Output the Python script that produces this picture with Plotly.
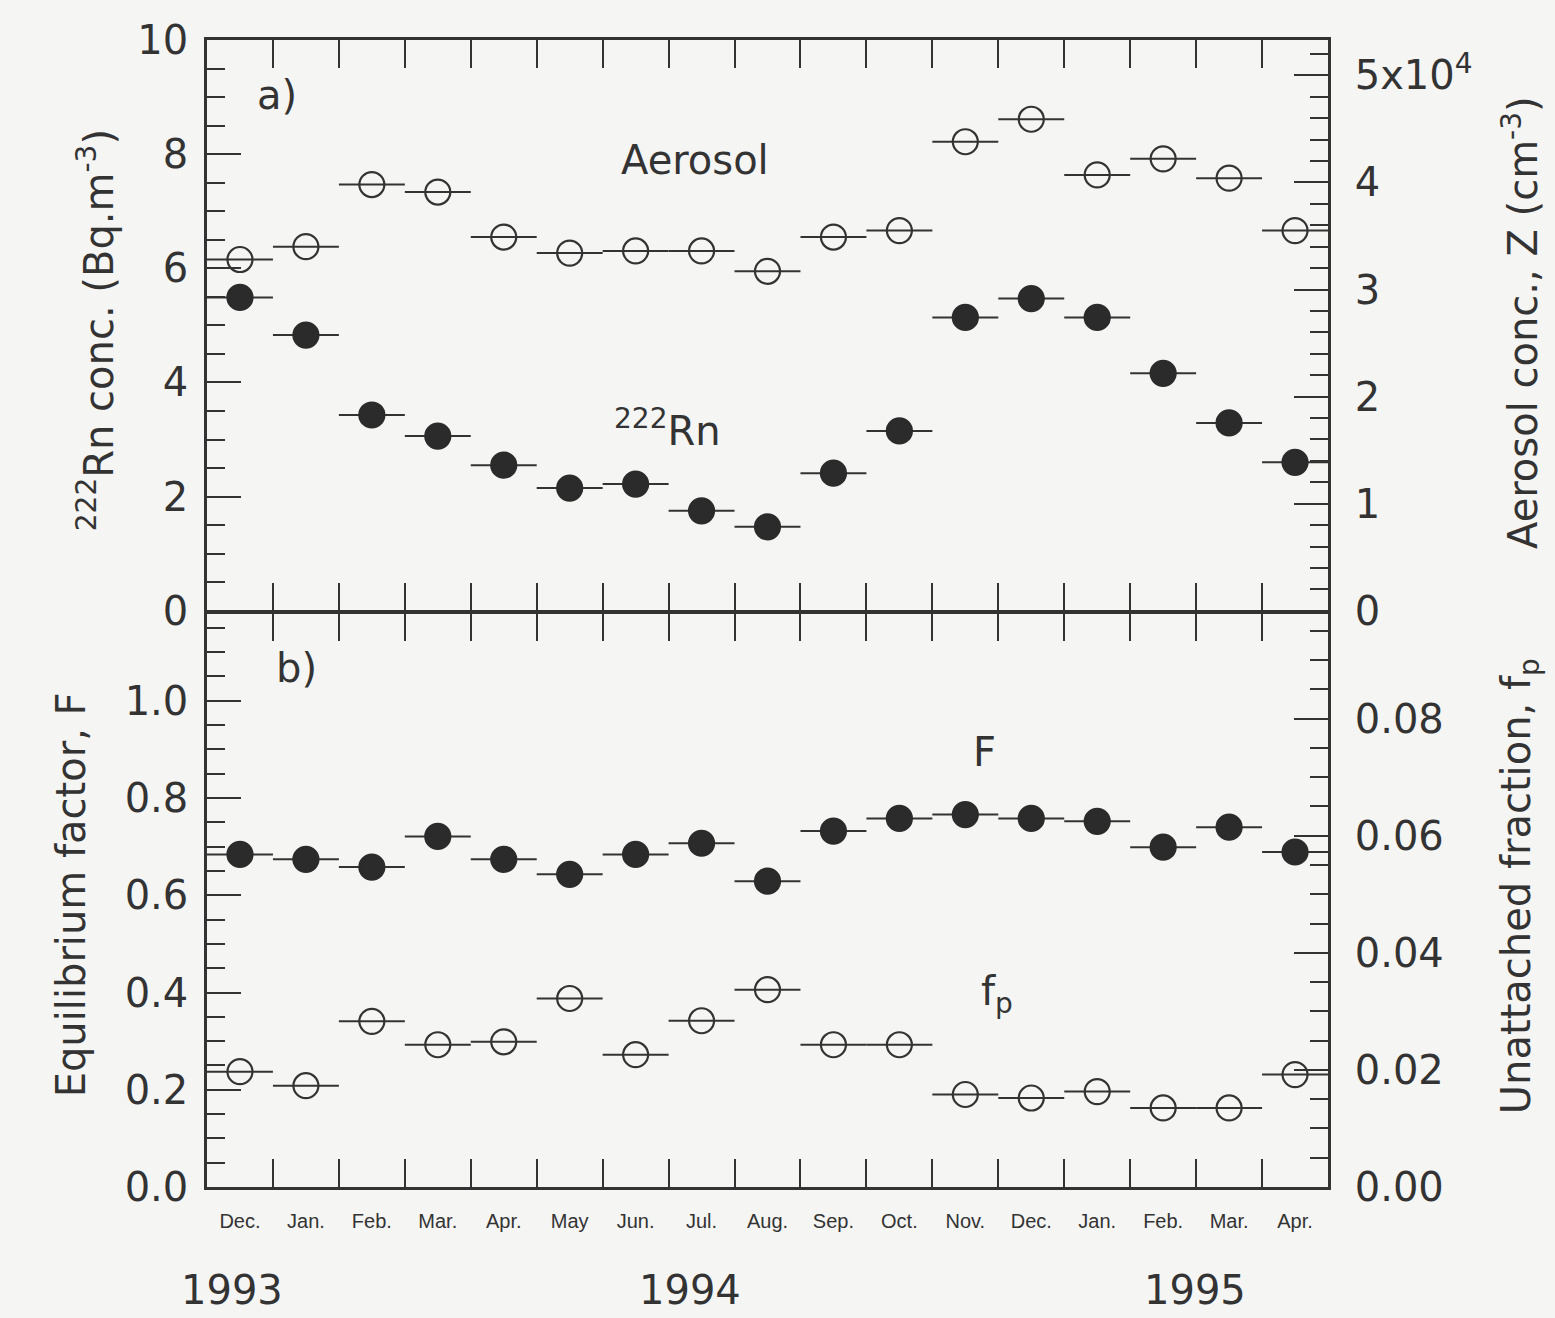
import plotly.graph_objects as go

months = ["Dec.", "Jan.", "Feb.", "Mar.", "Apr.", "May", "Jun.", "Jul.", "Aug.",
          "Sep.", "Oct.", "Nov.", "Dec.", "Jan.", "Feb.", "Mar.", "Apr."]
month_pos = [i + 0.5 for i in range(len(months))]
month_half = [0.5] * len(months)

# panel a
rn222 = [5.49, 4.83, 3.43, 3.06, 2.55, 2.15, 2.22, 1.75, 1.47, 2.41, 3.15, 5.14, 5.47, 5.14, 4.16, 3.29, 2.60]
aerosol = [32800, 34000, 39800, 39100, 34900, 33400, 33600, 33600, 31700, 34900, 35500, 43800, 45900, 40700, 42200, 40400, 35500]
# panel b
eq_factor = [0.684, 0.674, 0.658, 0.721, 0.674, 0.643, 0.684, 0.707, 0.629, 0.732, 0.758, 0.766, 0.758, 0.752, 0.699, 0.740, 0.689]
fp = [0.0197, 0.0173, 0.0283, 0.0243, 0.0248, 0.0322, 0.0226, 0.0284, 0.0337, 0.0243, 0.0243, 0.0158, 0.0152, 0.0163, 0.0135, 0.0135, 0.0192]

years = ["1993", "1994", "1995"]
year_x = [0.022, 0.431, 0.881]

INK = "#333333"
BG = "#f5f5f3"
FONT = "DejaVu Sans"

fig = go.Figure()

def add_series(x, y, xa, ya, filled):
    fig.add_trace(go.Scatter(
        x=x, y=y, xaxis=xa, yaxis=ya, mode="markers",
        marker=dict(symbol="circle" if filled else "circle-open", size=25,
                    color="#2b2b2b" if filled else INK,
                    line=dict(width=2.2, color="#2b2b2b" if filled else INK)),
        error_x=dict(type="data", array=month_half, symmetric=True,
                     thickness=2, width=0, color=INK),
        showlegend=False, cliponaxis=False))

add_series(month_pos, rn222, "x2", "y2", True)
add_series(month_pos, aerosol, "x2", "y4", False)
add_series(month_pos, eq_factor, "x", "y", True)
add_series(month_pos, fp, "x", "y3", False)

tickfont = dict(family=FONT, size=40, color=INK)
common_x = dict(range=[0, 17], showline=True, linecolor=INK, linewidth=2.5,
                mirror="allticks", ticks="inside", tickvals=list(range(2, 17, 2)),
                ticklen=28, tickwidth=2, tickcolor=INK, showticklabels=False,
                showgrid=False, zeroline=False,
                minor=dict(tickvals=list(range(1, 17, 2)), ticks="inside",
                           ticklen=16, tickwidth=2, tickcolor=INK, showgrid=False))

def yax(rng, tickvals, ticktext, minor_dtick, side, standoff, domain=None, overlaying=None, anchor=None):
    d = dict(range=rng, tickvals=tickvals, ticktext=ticktext, side=side,
             showline=True, linecolor=INK, linewidth=2.5, ticks="inside",
             ticklen=34, tickwidth=2, tickcolor=INK, tickfont=tickfont,
             ticklabelstandoff=standoff,
             showgrid=False, zeroline=False,
             minor=dict(tick0=0, dtick=minor_dtick, ticks="inside", ticklen=18,
                        tickwidth=2, tickcolor=INK, showgrid=False))
    if domain is not None:
        d["domain"] = domain
    if overlaying is not None:
        d["overlaying"] = overlaying
    if anchor is not None:
        d["anchor"] = anchor
    return d

split = 0.5013
gap = 0.0011
fig.update_layout(
    width=1555, height=1318,
    margin=dict(l=207, r=227, t=40, b=131),
    paper_bgcolor=BG, plot_bgcolor=BG,
    font=dict(family=FONT, color=INK),
    xaxis=dict(common_x, anchor="y"),
    xaxis2=dict(common_x, anchor="y2", matches="x"),
    xaxis3=dict(range=[0, 17], overlaying="x", anchor="y", side="bottom",
                tickvals=month_pos, ticktext=months, ticks="", showline=False,
                showgrid=False, zeroline=False, ticklabelstandoff=20,
                tickfont=dict(family="Liberation Sans", size=20, color=INK)),
    yaxis=yax([0, 1.18], [0, 0.2, 0.4, 0.6, 0.8, 1.0],
              ["0.0", "0.2", "0.4", "0.6", "0.8", "1.0"], 0.05, "left", 8,
              domain=[0, split - gap], anchor="x"),
    yaxis3=yax([0, 0.098], [0, 0.02, 0.04, 0.06, 0.08],
               ["0.00", "0.02", "0.04", "0.06", "0.08"], 0.005, "right", 16,
               overlaying="y", anchor="x"),
    yaxis2=yax([0, 10], [0, 2, 4, 6, 8, 10], ["0", "2", "4", "6", "8", "10"], 0.5, "left", 8,
               domain=[split + gap, 1], anchor="x2"),
    yaxis4=yax([0, 53300], [0, 10000, 20000, 30000, 40000, 50000],
               ["0", "1", "2", "3", "4", "5x10<sup>4</sup>"], 2000, "right", 16,
               overlaying="y2", anchor="x2"),
)

# invisible anchor trace for the month-label axis
fig.add_trace(go.Scatter(x=[month_pos[0]], y=[0], xaxis="x3", yaxis="y",
                         mode="markers", marker=dict(opacity=0), showlegend=False,
                         hoverinfo="skip"))

def note(text, x, y, size=40, angle=0):
    fig.add_annotation(text=text, x=x, y=y, xref="paper", yref="paper",
                       showarrow=False, textangle=angle,
                       font=dict(family=FONT, size=size, color=INK),
                       xanchor="center", yanchor="middle")

note("a)", 0.062, 0.952)
note("Aerosol", 0.435, 0.895)
note("<sup>222</sup>Rn", 0.411, 0.662)
note("b)", 0.080, 0.4525)
note("F", 0.694, 0.379)
note("f<sub>p</sub>", 0.7047, 0.168)

note("<sup>222</sup>Rn conc. (Bq.m<sup>-3</sup>)", -0.099, 0.747, size=40, angle=-90)
note("Equilibrium factor, F", -0.121, 0.2546, size=40, angle=-90)
note("Aerosol conc., Z (cm<sup>-3</sup>)", 1.172, 0.754, size=40, angle=-90)
note("Unattached fraction, f<sub>p</sub>", 1.171, 0.262, size=40, angle=-90)

for yr, xx in zip(years, year_x):
    note(yr, xx, -0.0895, size=40)

fig.write_html("out.html")
